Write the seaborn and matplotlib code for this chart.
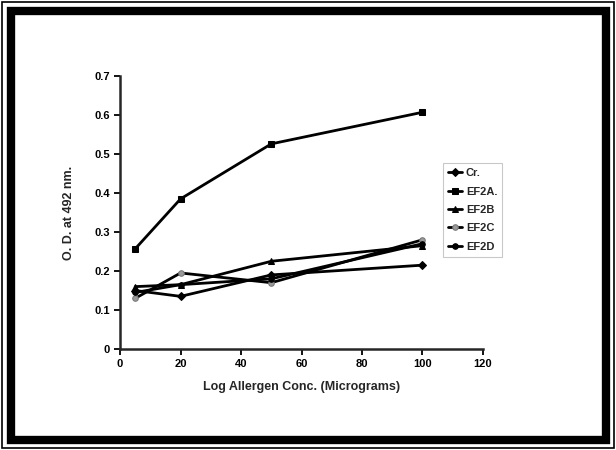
import seaborn as sns
import pandas as pd
import matplotlib.pyplot as plt
from matplotlib.patches import Rectangle

# data
conc = [5, 20, 50, 100]
cr = [0.15, 0.135, 0.19, 0.215]
ef2a = [0.257, 0.385, 0.526, 0.607]
ef2b = [0.16, 0.165, 0.225, 0.265]
ef2c = [0.13, 0.195, 0.17, 0.28]
ef2d = [0.145, 0.165, 0.18, 0.27]
series_names = ["Cr.", "EF2A.", "EF2B", "EF2C", "EF2D"]
yticks = [0, 0.1, 0.2, 0.3, 0.4, 0.5, 0.6, 0.7]
ytick_labels = ["0", "0.1", "0.2", "0.3", "0.4", "0.5", "0.6", "0.7"]
xticks = [0, 20, 40, 60, 80, 100, 120]

sns.set_style("ticks")
plt.rcParams['font.family'] = ['Liberation Sans', 'DejaVu Sans']
plt.rcParams['font.weight'] = 'bold'

fig = plt.figure(figsize=(6.16, 4.5), dpi=100)
ax = fig.add_axes([0.195, 0.2244, 0.589, 0.6067])

markers = ["D", "s", "^", "o", "o"]
faces = ["black", "black", "black", "#9a9a9a", "black"]
for name, vals, m, fc in zip(series_names, [cr, ef2a, ef2b, ef2c, ef2d], markers, faces):
    df = pd.DataFrame({"conc": conc, "od": vals})
    sns.lineplot(data=df, x="conc", y="od", ax=ax, color="black", lw=2,
                 marker=m, markersize=4, markerfacecolor=fc,
                 markeredgecolor="black" if fc == "black" else "#777777",
                 label=name)

ax.set_xlim(0, 120)
ax.set_ylim(0, 0.7)
ax.set_xticks(xticks)
ax.set_yticks(yticks)
ax.set_yticklabels(ytick_labels)
ax.tick_params(labelsize=8, width=1.3, length=4, colors="black")
for s in ["left", "bottom"]:
    ax.spines[s].set_linewidth(1.8)
sns.despine(ax=ax)
ax.set_xlabel("Log Allergen Conc. (Micrograms)", fontsize=9, fontweight="bold", labelpad=8)
ax.set_ylabel("O. D. at 492 nm.", fontsize=9, fontweight="bold", labelpad=14)

leg = ax.legend(loc="upper left", bbox_to_anchor=(0.89, 0.68), fontsize=8,
                frameon=True, fancybox=False, handlelength=1.3, borderpad=0.45,
                labelspacing=0.75, handletextpad=0.3, borderaxespad=0)
leg.get_frame().set_edgecolor("#bbbbbb")
leg.get_frame().set_linewidth(0.8)

# picture frame
W, H = 616, 450
fig.patches.append(Rectangle((2 / W, 2 / H), 1 - 4 / W, 1 - 4 / H, transform=fig.transFigure,
                             fill=False, lw=1.2, ec="black"))
fig.patches.append(Rectangle((10.5 / W, 10.5 / H), 1 - 21 / W, 1 - 21 / H, transform=fig.transFigure,
                             fill=False, lw=6, ec="black"))

fig.savefig("out.png", dpi=100)
